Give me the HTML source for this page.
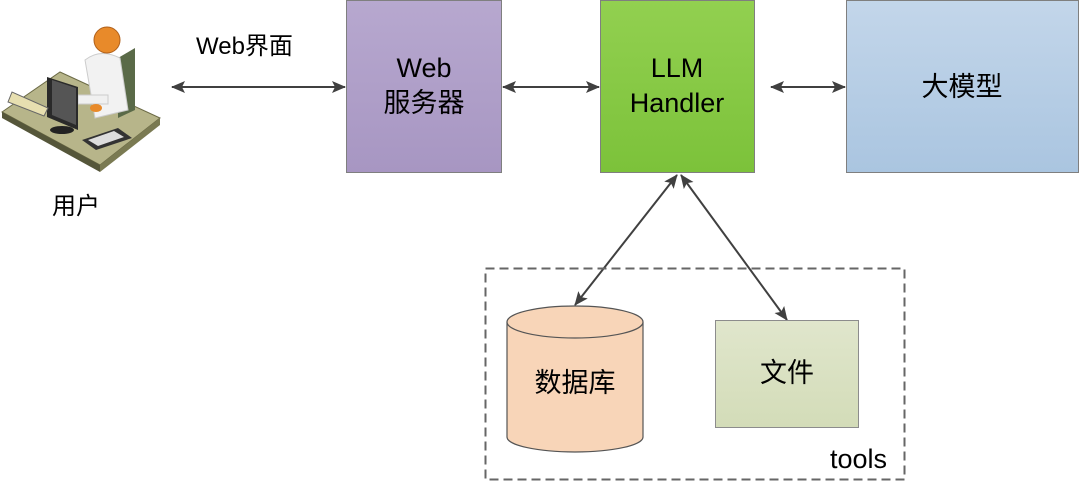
<!DOCTYPE html>
<html><head><meta charset="utf-8"><style>
body{margin:0;background:#fff}
svg text{font-family:"Liberation Sans","Noto Sans CJK SC",sans-serif;fill:#000}
</style></head><body>
<svg width="1080" height="485" viewBox="0 0 1080 485" xmlns="http://www.w3.org/2000/svg">
<defs>
<marker id="a" markerWidth="14" markerHeight="12" refX="13" refY="6" orient="auto-start-reverse" markerUnits="userSpaceOnUse">
<path d="M0,0 L14,6 L0,12 L3,6 Z" fill="#404040"/></marker>
<linearGradient id="gp" x1="0" y1="0" x2="0" y2="1"><stop offset="0" stop-color="#b7a8cf"/><stop offset="1" stop-color="#a796c2"/></linearGradient>
<linearGradient id="gg" x1="0" y1="0" x2="0" y2="1"><stop offset="0" stop-color="#92d050"/><stop offset="1" stop-color="#7cc23a"/></linearGradient>
<linearGradient id="gb" x1="0" y1="0" x2="0" y2="1"><stop offset="0" stop-color="#c3d6ea"/><stop offset="1" stop-color="#aac5e0"/></linearGradient>
<linearGradient id="gf" x1="0" y1="0" x2="0" y2="1"><stop offset="0" stop-color="#e0e6cc"/><stop offset="1" stop-color="#d3dcb8"/></linearGradient>
</defs>
<g>
<polygon points="2,112 60,72 160,118 100,165" fill="#b7b58a" stroke="#6b6a45"/>
<polygon points="2,112 100,165 100,172 2,118" fill="#55563a"/>
<polygon points="100,165 160,118 160,125 100,172" fill="#7a7a52"/>
<polygon points="118,58 135,48 135,110 118,118" fill="#5a6a48"/>
<path d="M85,60 Q100,48 120,58 L128,110 L95,118 Z" fill="#f2f2f2" stroke="#ccc"/>
<circle cx="107" cy="40" r="13" fill="#e88a2a" stroke="#b0601a"/>
<rect x="78" y="95" width="30" height="9" fill="#f0f0f0" stroke="#ccc"/>
<ellipse cx="96" cy="108" rx="6" ry="4" fill="#e88a2a"/>
<polygon points="47,77 78,87 78,130 47,117" fill="#2a2a2a"/>
<polygon points="52,80 76,88 76,125 52,115" fill="#555"/>
<ellipse cx="62" cy="130" rx="12" ry="4" fill="#222"/>
<polygon points="82,140 118,128 132,138 96,150" fill="#333"/>
<polygon points="88,140 114,131 124,137 98,146" fill="#ddd"/>
<polygon points="8,102 12,92 48,108 44,116" fill="#e7dfb0" stroke="#666"/>
</g>
<text x="52" y="214" font-size="24">用户</text>
<text x="196" y="54" font-size="24">Web界面</text>
<rect x="346.5" y="0.5" width="155" height="172" fill="url(#gp)" stroke="#7f7f7f"/>
<text x="424" y="77" font-size="27" text-anchor="middle">Web</text>
<text x="424" y="112" font-size="27" text-anchor="middle">服务器</text>
<rect x="600.5" y="0.5" width="154" height="172" fill="url(#gg)" stroke="#7f7f7f"/>
<text x="677" y="77" font-size="27" text-anchor="middle">LLM</text>
<text x="677" y="112" font-size="27" text-anchor="middle">Handler</text>
<rect x="846.5" y="0.5" width="232" height="172" fill="url(#gb)" stroke="#7f7f7f"/>
<text x="962" y="96" font-size="27" text-anchor="middle">大模型</text>
<g stroke="#404040" stroke-width="2" fill="none">
<line x1="172" y1="87" x2="345" y2="87" marker-start="url(#a)" marker-end="url(#a)"/>
<line x1="503" y1="87" x2="599" y2="87" marker-start="url(#a)" marker-end="url(#a)"/>
<line x1="771" y1="87" x2="845" y2="87" marker-start="url(#a)" marker-end="url(#a)"/>
<line x1="677" y1="175" x2="575" y2="305" marker-start="url(#a)" marker-end="url(#a)"/>
<line x1="681" y1="175" x2="787" y2="320" marker-start="url(#a)" marker-end="url(#a)"/>
</g>
<rect x="485.5" y="268.5" width="419" height="211" fill="none" stroke="#666" stroke-width="2" stroke-dasharray="9,5"/>
<text x="830" y="468" font-size="27">tools</text>
<path d="M507,322 L507,437 A68,15 0 0 0 643,437 L643,322" fill="#f8d5b8" stroke="#555" stroke-width="1.2"/>
<ellipse cx="575" cy="322" rx="68" ry="16" fill="#f8d5b8" stroke="#555" stroke-width="1.2"/>
<text x="575" y="392" font-size="27" text-anchor="middle">数据库</text>
<rect x="715.5" y="320.5" width="143" height="107" fill="url(#gf)" stroke="#8c8c8c"/>
<text x="787" y="382" font-size="27" text-anchor="middle">文件</text>
</svg>
</body></html>
